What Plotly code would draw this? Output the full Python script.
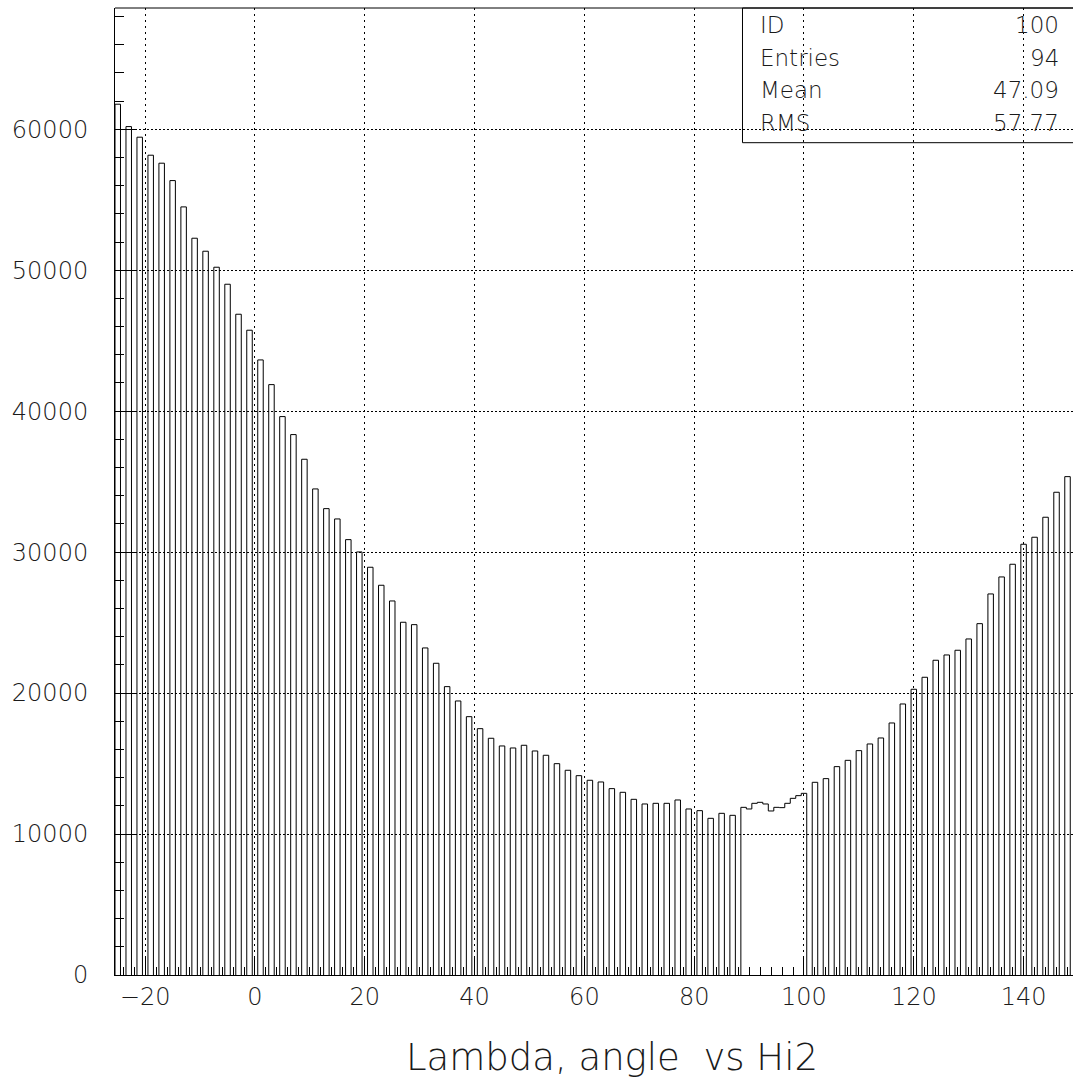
import plotly.graph_objects as go

# ---------------- data ----------------
# bins of width 1 (centre values); odd centres on the left part
left_centers = list(range(-25, 88, 2))
left_counts = [61775, 60188, 59435, 58157, 57590, 56357, 54490, 52268, 51345, 50210,
               49003, 46875, 45741, 43634, 41883, 39614, 38337, 36587, 34482, 33085,
               32353, 30885, 30012, 28926, 27649, 26535, 25024, 24854, 23201, 22114,
               20457, 19440, 18327, 17475, 16794, 16248, 16106, 16297, 15893, 15587,
               14992, 14523, 14141, 13814, 13693, 13221, 12960, 12463, 12132, 12179,
               12179, 12416, 11778, 11659, 11115, 11470, 11328]
# contiguous bins in the middle
mid_centers = list(range(89, 101))
mid_counts = [11895, 11778, 12179, 12250, 12132, 11636, 11895, 11872, 12179, 12533,
              12723, 12888]
# even centres on the right part
right_centers = list(range(102, 149, 2))
right_counts = [13670, 13930, 14782, 15229, 15917, 16389, 16815, 17879, 19227, 20270,
                21121, 22328, 22704, 23038, 23839, 24925, 27032, 28238, 29139, 30558,
                31055, 32474, 34247, 35354]

bin_width = 1.0
x_range = [-25.5, 149.0]
y_range = [0, 68600]

stat_labels = ["ID", "Entries", "Mean", "RMS"]
stat_values = ["100", "94", "47.09", "57.77"]
x_title = "Lambda, angle\u00a0 vs Hi2"

# ---------------- build histogram outline ----------------
centers = left_centers + mid_centers + right_centers
counts = left_counts + mid_counts + right_counts
pairs = sorted(zip(centers, counts))

xs, ys = [], []
prev_right = None
for c, h in pairs:
    lft, rgt = c - bin_width / 2, c + bin_width / 2
    if prev_right is None or abs(lft - prev_right) > 1e-9:
        if prev_right is not None:
            xs += [prev_right, None]
            ys += [0, None]
        xs.append(lft)
        ys.append(0)
    xs += [lft, rgt]
    ys += [h, h]
    prev_right = rgt
xs.append(prev_right)
ys.append(0)

FONT = "DejaVu Sans"
TXT = "#1a1a1a"
W = 200

fig = go.Figure()
fig.add_trace(go.Scatter(x=xs, y=ys, mode="lines",
                         line=dict(color="black", width=1),
                         hoverinfo="skip", showlegend=False))

fig.update_layout(
    width=1073, height=1084,
    margin=dict(l=115, r=0, t=8, b=109),
    paper_bgcolor="white", plot_bgcolor="white",
    showlegend=False,
    font=dict(family=FONT, color=TXT, size=23, weight=W),
)

fig.update_xaxes(
    range=x_range, tick0=0, dtick=20,
    ticks="inside", ticklen=19, tickwidth=1, tickcolor="black",
    minor=dict(dtick=2, ticklen=8, ticks="inside", tickcolor="black", tickwidth=1, showgrid=False),
    showgrid=True, gridcolor="black", gridwidth=1, griddash="2px,4px",
    showline=True, linecolor="black", linewidth=1, mirror=False,
    zeroline=False, ticklabelstandoff=0,
    tickfont=dict(family=FONT, size=24, color=TXT, weight=W),
)
fig.update_yaxes(
    range=y_range, tick0=0, dtick=10000, tickformat="d",
    ticks="inside", ticklen=20, tickwidth=1, tickcolor="black",
    minor=dict(dtick=2000, ticklen=9, ticks="inside", tickcolor="black", tickwidth=1, showgrid=False),
    showgrid=True, gridcolor="black", gridwidth=1, griddash="2px,2px",
    showline=True, linecolor="black", linewidth=1, mirror=False,
    zeroline=False, ticklabelstandoff=21,
    tickfont=dict(family=FONT, size=24, color=TXT, weight=W),
)

# top frame line
fig.add_shape(type="line", xref="paper", yref="paper", x0=0, x1=1, y0=1, y1=1,
              line=dict(color="black", width=1))
# statistics box
fig.add_shape(type="rect", xref="paper", yref="paper", x0=0.655, x1=1.002, y0=0.8607, y1=1,
              line=dict(color="black", width=1), fillcolor="rgba(0,0,0,0)", layer="above")

row_y = [0.9824, 0.9488, 0.9152, 0.8811]
for lab, val, yy in zip(stat_labels, stat_values, row_y):
    fig.add_annotation(x=0.671, y=yy, xref="paper", yref="paper", text=lab,
                       showarrow=False, xanchor="left", yanchor="middle",
                       font=dict(family=FONT, size=23, color=TXT, weight=W))
    fig.add_annotation(x=0.9875, y=yy, xref="paper", yref="paper", text=val,
                       showarrow=False, xanchor="right", yanchor="middle",
                       font=dict(family=FONT, size=23, color=TXT, weight=W))

fig.add_annotation(x=0.5185, y=-0.0858, xref="paper", yref="paper", text=x_title,
                   showarrow=False, xanchor="center", yanchor="middle",
                   font=dict(family=FONT, size=37, color=TXT, weight=W))

fig.write_html("out.html", config={"displayModeBar": False},
               post_script="document.body.style.margin='0px';document.body.style.overflow='hidden';")
